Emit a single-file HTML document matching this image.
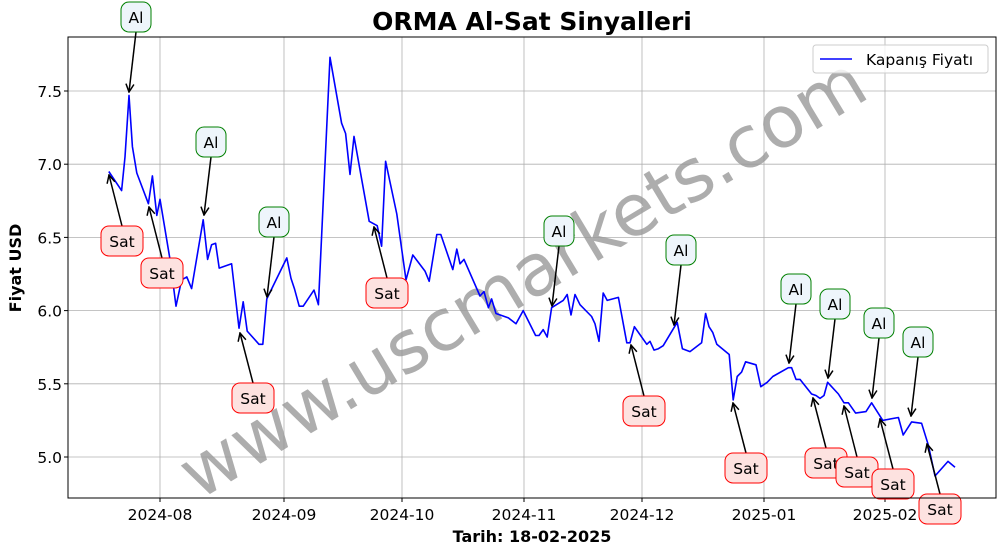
<!DOCTYPE html>
<html><head><meta charset="utf-8"><style>
html,body{margin:0;padding:0;background:#fff;}
svg{display:block;font-family:"DejaVu Sans","Liberation Sans",sans-serif;}
</style></head><body>
<svg id="chart" width="1006" height="554" viewBox="0 0 1006 554"></svg>
<script>
const days=[-12.8,-9.6,-8.75,-7.75,-6.9,-5.8,-2.9,-1.9,-0.8,0,2.5,4,5.4,6.7,7.9,10.8,11.9,12.9,13.9,14.8,17.9,19.75,20.8,21.8,24.75,25.7,26.7,31.7,32.75,33.6,34.8,35.8,38.5,39.6,42.5,45.4,46.4,47.5,48.5,52.3,54.3,55.4,56.4,59.2,61.5,63.2,66.25,67.3,69.2,70.2,73.2,74.2,75,76,80,81,82.1,82.9,84,87.1,89,90.8,93.9,94.75,95.8,96.8,97.9,100.8,101.8,102.75,103.75,105,107.9,108.75,109.75,110.8,111.8,114.6,116.7,117.5,118.6,121.7,122.5,123.5,124.6,125.8,129.3,130.6,132.5,135.4,136.4,137.25,138.2,139.2,142.3,143.3,144.3,145.4,146.4,149,150.2,151.8,153.2,157.1,157.9,159,160,162.9,164,165,166,166.9,169.6,171,172.1,173.9,176.5,177.9,180.7,184.6,185.8,187.9,190.4,192.1,193.75,197,198.75];
const prices=[6.95,6.82,7.05,7.47,7.12,6.94,6.73,6.92,6.65,6.76,6.35,6.03,6.21,6.23,6.15,6.62,6.35,6.45,6.46,6.29,6.32,5.88,6.06,5.86,5.77,5.77,6.08,6.36,6.22,6.15,6.03,6.03,6.14,6.04,7.73,7.28,7.21,6.93,7.19,6.61,6.58,6.44,7.02,6.66,6.21,6.38,6.27,6.2,6.52,6.52,6.28,6.42,6.32,6.35,6.1,6.13,6.02,6.08,5.98,5.95,5.91,6.0,5.83,5.83,5.87,5.82,6.02,6.07,6.11,5.97,6.11,6.04,5.96,5.91,5.79,6.12,6.07,6.09,5.78,5.78,5.89,5.77,5.79,5.73,5.74,5.76,5.92,5.74,5.72,5.78,5.98,5.89,5.85,5.77,5.7,5.39,5.55,5.58,5.65,5.63,5.48,5.51,5.55,5.61,5.61,5.53,5.53,5.43,5.42,5.4,5.42,5.51,5.43,5.37,5.37,5.3,5.31,5.37,5.25,5.27,5.15,5.24,5.23,5.08,4.87,4.97,4.93];
const yTicks=[5.0,5.5,6.0,6.5,7.0,7.5];
const xTickDays=[0,31,60.5,91,120.5,151,181.25];
const xTickLabels=["2024-08","2024-09","2024-10","2024-11","2024-12","2025-01","2025-02"];
const signalTypes=["Al","Sat","Sat","Al","Al","Sat","Sat","Al","Al","Sat","Sat","Al","Al","Sat","Al","Sat","Al","Sat","Sat"];

const L=68,R=996,T=37,B=498;
const X=d=>160+d*4;
const Y=v=>457-(v-5)*146.4;
const svg=document.getElementById('chart');
const NS='http://www.w3.org/2000/svg';
function mk(tag,attrs,parent){const e=document.createElementNS(NS,tag);for(const k in attrs)e.setAttribute(k,attrs[k]);(parent||svg).appendChild(e);return e;}

yTicks.forEach(v=>{
  const g=mk('line',{x1:L,x2:R,y1:Y(v),y2:Y(v),stroke:'#b0b0b0','stroke-width':0.8});
  
  
  mk('line',{x1:L-4,x2:L,y1:Y(v),y2:Y(v),stroke:'#000'});
  const t=mk('text',{x:L-6,y:Y(v)+6,'text-anchor':'end','font-size':15.5});
  t.textContent=v.toFixed(1);
  
  
});
xTickDays.forEach((d,i)=>{
  const g=mk('line',{x1:X(d),x2:X(d),y1:T,y2:B,stroke:'#b0b0b0','stroke-width':0.8});
  
  
  mk('line',{x1:X(d),x2:X(d),y1:B,y2:B+4,stroke:'#000'});
  const t=mk('text',{x:X(d),y:B+22,'text-anchor':'middle','font-size':15.5});
  t.textContent=xTickLabels[i];
  
  
});

const wm=mk('text',{x:530,y:300,'text-anchor':'middle','font-size':72,fill:'#999','fill-opacity':0.8,transform:'rotate(-31 530 290)'});
wm.textContent='www.uscmarkets.com';



const pl=mk('polyline',{points:days.map((d,i)=>X(d).toFixed(1)+','+Y(prices[i]).toFixed(1)).join(' '),fill:'none',stroke:'#0000ff','stroke-width':1.6,'stroke-linejoin':'round'});



const ann=[[136,17,129,92],[122,241,109,175],[162,273,149,207],[211,142,204,215],[274,222,267,297],[253,398,240,333],[387,293,374,227],[559,231,552,306],[681,250,674,325],[644,411,631,345],[746,468,733,403],[796,289,789,363],[835,304,828,378],[826,463,813,398],[879,323,872,398],[857,472,844,406],[918,342,911,416],[893,484,880,419],[940,509,927,444]];
const defs=mk('defs',{});
const mkr=mk('marker',{id:'ah',markerWidth:10,markerHeight:10,refX:9,refY:5,orient:'auto',markerUnits:'userSpaceOnUse'},defs);
mk('path',{d:'M1,1 L9,5 L1,9',fill:'none',stroke:'#000','stroke-width':1.5},mkr);
ann.forEach((a,i)=>{
  const isAl=signalTypes[i]==='Al';
  const w=isAl?30:42,h=30;
  const dy=a[3]>a[1]?1:-1;
  const ar=mk('line',{x1:a[0],y1:a[1]+dy*15,x2:a[2],y2:a[3],stroke:'#000','stroke-width':1.5,'marker-end':'url(#ah)'});
  
  
  const g=mk('g',{});
  
  
  mk('rect',{x:a[0]-w/2,y:a[1]-h/2,width:w,height:h,rx:8,fill:isAl?'#eef5fb':'#fde2e0',stroke:isAl?'green':'red','stroke-width':1},g);
  const t=mk('text',{x:a[0],y:a[1]+6,'text-anchor':'middle','font-size':15.5},g);
  t.textContent=signalTypes[i];
});

const fr=mk('rect',{x:L,y:T,width:R-L,height:B-T,fill:'none',stroke:'#000','stroke-width':1});



const lg=mk('g',{});


mk('rect',{x:813,y:45,width:175,height:28,rx:3,fill:'#fff','fill-opacity':0.8,stroke:'#ccc'},lg);
mk('line',{x1:820,x2:852,y1:59,y2:59,stroke:'#0000ff','stroke-width':1.6},lg);
const lt=mk('text',{x:866,y:65,'font-size':15.5},lg);
lt.textContent='Kapanış Fiyatı';

const ti=mk('text',{x:532,y:30,'text-anchor':'middle','font-size':25,'font-weight':'bold'});
ti.textContent='ORMA Al-Sat Sinyalleri';


const xt=mk('text',{x:532,y:542,'text-anchor':'middle','font-size':16,'font-weight':'bold'});
xt.textContent='Tarih: 18-02-2025';


const yt=mk('text',{x:21,y:268,'text-anchor':'middle','font-size':16,'font-weight':'bold',transform:'rotate(-90 21 268)'});
yt.textContent='Fiyat USD';


</script>
</body></html>
